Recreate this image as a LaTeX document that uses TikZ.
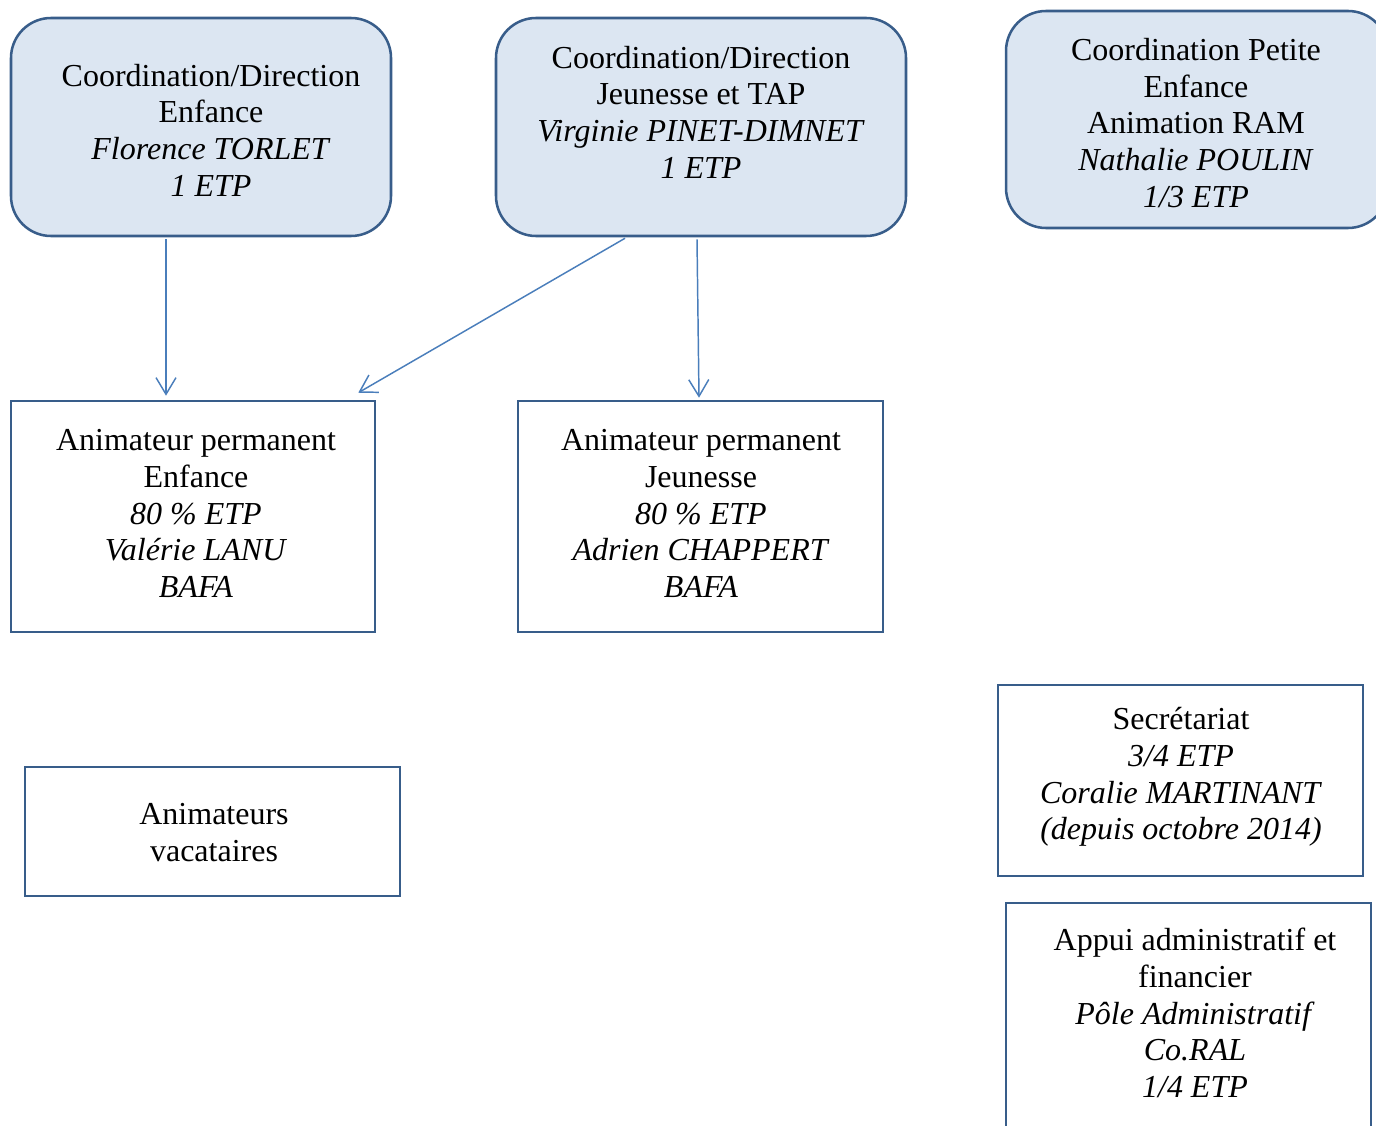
\documentclass[tikz,border=0pt]{standalone}
\usepackage{fontspec}
\setmainfont{Liberation Serif}
\usetikzlibrary{arrows.meta,calc}
\definecolor{boxfill}{HTML}{DCE6F2}
\definecolor{boxline}{HTML}{385D8A}
\definecolor{arrline}{HTML}{4A7EBB}
\begin{document}
\begin{tikzpicture}[x=0.75pt,y=-0.75pt,
  roundbox/.style={draw=boxline,fill=boxfill,line width=1.9pt,rounded corners=30pt,inner sep=0pt},
  plainbox/.style={draw=boxline,line width=1.9pt,inner sep=0pt},
  txt/.style={align=center,font=\fontsize{24pt}{27.5pt}\selectfont,inner sep=0pt},
  arr/.style={draw=arrline,line width=1.1pt,-{Straight Barb[length=12.5pt,width=15pt]}}]
\useasboundingbox (0,0) rectangle (1376,1126);
\clip (0,0) rectangle (1376,1126);
% boxes
\node[roundbox,minimum width=285pt,minimum height=163.5pt] (A) at (201,127) {};
\node[roundbox,minimum width=307.5pt,minimum height=163.5pt] (B) at (701,127) {};
\node[roundbox,minimum width=286.5pt,minimum height=162.75pt] (C) at (1197,119.5) {};
\node[plainbox,minimum width=273pt,minimum height=173.25pt] (D) at (193,516.5) {};
\node[plainbox,minimum width=273.75pt,minimum height=173.25pt] (E) at (700.5,516.5) {};
\node[plainbox,minimum width=281.25pt,minimum height=96.75pt] (F) at (212.5,831.5) {};
\node[plainbox,minimum width=273.75pt,minimum height=143.25pt] (G) at (1180.5,780.5) {};
\node[plainbox,minimum width=273.75pt,minimum height=177.75pt] (H) at (1188.5,1021.5) {};
% texts
\node[txt] (At) at (211,130) {Coordination/Direction\\Enfance\\\textit{Florence TORLET}\\\textit{1 ETP}};
\node[txt] (Bt) at (701,112) {Coordination/Direction\\Jeunesse et TAP\\\textit{Virginie PINET-DIMNET}\\\textit{1 ETP}};
\node[txt] (Ct) at (1196,123) {Coordination Petite\\Enfance\\Animation RAM\\\textit{Nathalie POULIN}\\\textit{1/3 ETP}};
\node[txt] (Dt) at (196,513.5) {Animateur permanent\\Enfance\\\textit{80 \% ETP}\\\textit{Valérie LANU}\\\textit{BAFA}};
\node[txt] (Et) at (701,513.5) {Animateur permanent\\Jeunesse\\\textit{80 \% ETP}\\\textit{Adrien CHAPPERT}\\\textit{BAFA}};
\node[txt] (Ft) at (214,832.5) {Animateurs\\vacataires};
\node[txt] (Gt) at (1181,777) {Secrétariat\\\textit{3/4 ETP}\\\textit{Coralie MARTINANT}\\\textit{(depuis octobre 2014)}};
\node[txt] (Ht) at (1195,1013) {Appui administratif et\\financier\\\textit{Pôle Administratif}\\\textit{Co.RAL}\\\textit{1/4 ETP}};
% connectors
\draw[arr] ($(A.south)+(-35,2)$) -- ($(D.north)+(-27,-4)$);
\draw[arr] ($(B.south)+(-76,1)$) -- ($(D.north east)+(-18,-7)$);
\draw[arr] ($(B.south)+(-4,2)$) -- ($(E.north)+(-1.5,-2)$);
\end{tikzpicture}
\end{document}
